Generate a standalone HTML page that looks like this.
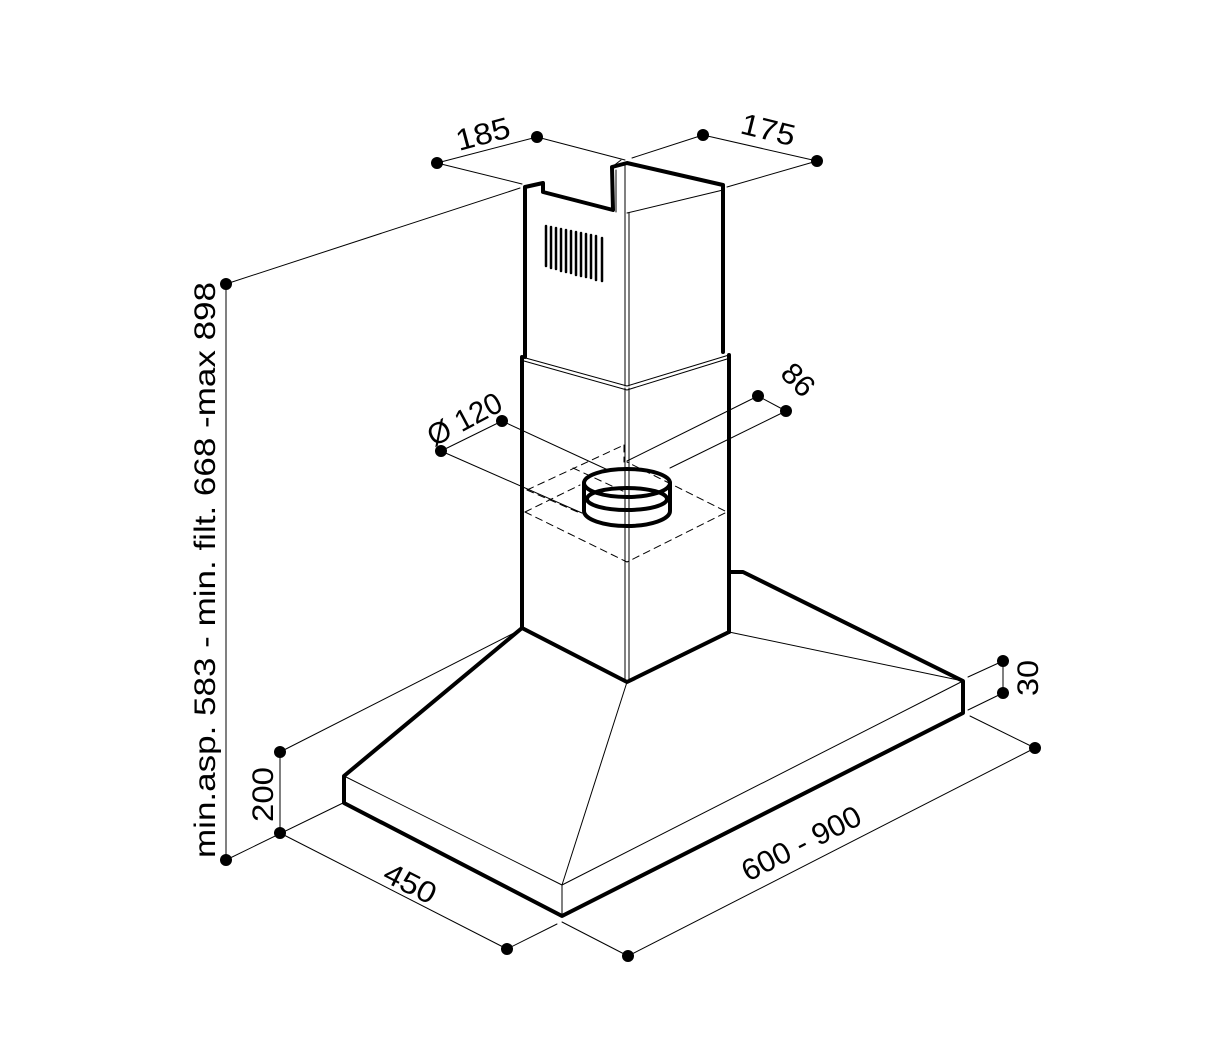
<!DOCTYPE html>
<html><head><meta charset="utf-8"><style>
html,body{margin:0;padding:0;background:#fff;}
svg{display:block}
text{font-family:"Liberation Sans Narrow","Liberation Sans",sans-serif;fill:#000;}
</style></head><body>
<svg width="1222" height="1042" viewBox="0 0 1222 1042" xmlns="http://www.w3.org/2000/svg">
<g fill="none" stroke="#000" stroke-linejoin="round" stroke-linecap="round">
<g stroke-width="1">
<line x1="437" y1="163" x2="537" y2="137"/>
<line x1="437" y1="163" x2="522" y2="184"/>
<line x1="537" y1="137" x2="625" y2="160"/>
<line x1="703" y1="135" x2="817" y2="161"/>
<line x1="703" y1="135" x2="632" y2="158"/>
<line x1="817" y1="161" x2="727" y2="187"/>
<line x1="226" y1="284" x2="226" y2="860"/>
<line x1="226" y1="284" x2="520" y2="188"/>
<line x1="226" y1="860" x2="343" y2="803"/>
<line x1="280" y1="752" x2="280" y2="833"/>
<line x1="280" y1="752" x2="520" y2="630"/>
<line x1="280" y1="833" x2="507" y2="949"/>
<line x1="507" y1="949" x2="557" y2="924"/>
<line x1="628" y1="956" x2="1035" y2="748"/>
<line x1="628" y1="956" x2="562" y2="922"/>
<line x1="1035" y1="748" x2="970" y2="716"/>
<line x1="1003" y1="661" x2="1003" y2="693"/>
<line x1="1003" y1="661" x2="968" y2="677"/>
<line x1="1003" y1="693" x2="968" y2="710"/>
<line x1="441" y1="451" x2="502" y2="421"/>
<line x1="502" y1="421" x2="608" y2="470"/>
<line x1="441" y1="451" x2="582" y2="513"/>
<line x1="758" y1="396" x2="627" y2="461"/>
<line x1="786" y1="411" x2="670" y2="468"/>
<line x1="758" y1="396" x2="786" y2="411"/>
<line x1="344" y1="776" x2="562" y2="885"/>
<line x1="562" y1="885" x2="562" y2="916"/>
<line x1="562" y1="885" x2="963" y2="681"/>
<line x1="627" y1="682" x2="562" y2="885"/>
<line x1="729" y1="632" x2="963" y2="681"/>
<line x1="625" y1="213" x2="625" y2="386"/>
<line x1="629" y1="213" x2="629" y2="386"/>
<line x1="625" y1="388" x2="625" y2="682"/>
<line x1="629" y1="388" x2="629" y2="682"/>
<line x1="612" y1="167" x2="612" y2="210"/>
<line x1="616" y1="170" x2="616" y2="212"/>
<path d="M522 357 L627 386 L729 355"/>
<path d="M524 361 L627 390 L727 359"/>
<path d="M627 213 L723 190"/>
<line x1="621" y1="160" x2="612" y2="167"/>
<line x1="625" y1="163" x2="625" y2="213"/>
</g>
<g stroke-width="1" stroke-dasharray="7,5">
<path d="M525 512 L627 562 L727 512 L627 462"/>
<path d="M525 512 L580 485"/>
<path d="M527 490 L624 445"/>
<path d="M573 468 L625 492"/>
<line x1="624" y1="445" x2="624" y2="462"/>
<path d="M527 490 L580 513"/>
</g>
<g stroke-width="4">
<path d="M525 357 L525 187 L543 183 L543 192 L613 210 L612 167 L627 163 L723 185 L723 352"/>
<line x1="522" y1="357" x2="522" y2="628"/>
<line x1="729" y1="355" x2="729" y2="632"/>
<path d="M522 628 L627 682 L729 632"/>
<path d="M729 572 L743 572 L963 681 L963 713 L562 916 L344 803 L344 776 L522 628"/>
<ellipse cx="627" cy="483" rx="43" ry="14"/>
<path d="M587 499 A40 11 0 0 1 667 499"/>
<path d="M587 499 A40 11 0 0 0 667 499"/>
<path d="M584 483 L584 511 A43 15 0 0 0 670 511 L670 483"/>
</g>
<g stroke-width="2.5">
<line x1="546" y1="226" x2="546" y2="266"/>
<line x1="551" y1="227" x2="551" y2="268"/>
<line x1="556" y1="228" x2="556" y2="269"/>
<line x1="561" y1="229" x2="561" y2="271"/>
<line x1="566" y1="230" x2="566" y2="272"/>
<line x1="571" y1="231" x2="571" y2="273"/>
<line x1="576" y1="232" x2="576" y2="275"/>
<line x1="581" y1="233" x2="581" y2="276"/>
<line x1="586" y1="234" x2="586" y2="277"/>
<line x1="591" y1="235" x2="591" y2="278"/>
<line x1="596" y1="236" x2="596" y2="280"/>
<line x1="602" y1="238" x2="602" y2="281"/>
</g>
</g>
<g fill="#000">
<circle cx="437" cy="163" r="6"/><circle cx="537" cy="137" r="6"/>
<circle cx="703" cy="135" r="6"/><circle cx="817" cy="161" r="6"/>
<circle cx="226" cy="284" r="6"/><circle cx="226" cy="860" r="6"/>
<circle cx="280" cy="752" r="6"/><circle cx="280" cy="833" r="6"/>
<circle cx="507" cy="949" r="6"/><circle cx="628" cy="956" r="6"/>
<circle cx="1035" cy="748" r="6"/><circle cx="1003" cy="661" r="6"/>
<circle cx="1003" cy="693" r="6"/><circle cx="441" cy="451" r="6"/>
<circle cx="502" cy="421" r="6"/><circle cx="758" cy="396" r="6"/>
<circle cx="786" cy="411" r="6"/>
</g>
<g font-size="30">
<text transform="translate(215,858) rotate(-90)" textLength="576" lengthAdjust="spacingAndGlyphs">min.asp. 583 - min. filt. 668 -max 898</text>
<text transform="translate(273,822) rotate(-90)" textLength="55" lengthAdjust="spacingAndGlyphs">200</text>
<text transform="translate(459,151) rotate(-15)" textLength="55" lengthAdjust="spacingAndGlyphs">185</text>
<text transform="translate(739,133) rotate(14)" textLength="55" lengthAdjust="spacingAndGlyphs">175</text>
<text transform="translate(381,880) rotate(27)" textLength="55" lengthAdjust="spacingAndGlyphs">450</text>
<text transform="translate(748,882) rotate(-27)" textLength="130" lengthAdjust="spacingAndGlyphs">600 - 900</text>
<text transform="translate(1038,696) rotate(-90)" textLength="36" lengthAdjust="spacingAndGlyphs">30</text>
<text transform="translate(434,447) rotate(-28)" textLength="80" lengthAdjust="spacingAndGlyphs">Ø 120</text>
<text transform="translate(779,375) rotate(45)" textLength="34" lengthAdjust="spacingAndGlyphs">86</text>
</g>
</svg>
</body></html>
